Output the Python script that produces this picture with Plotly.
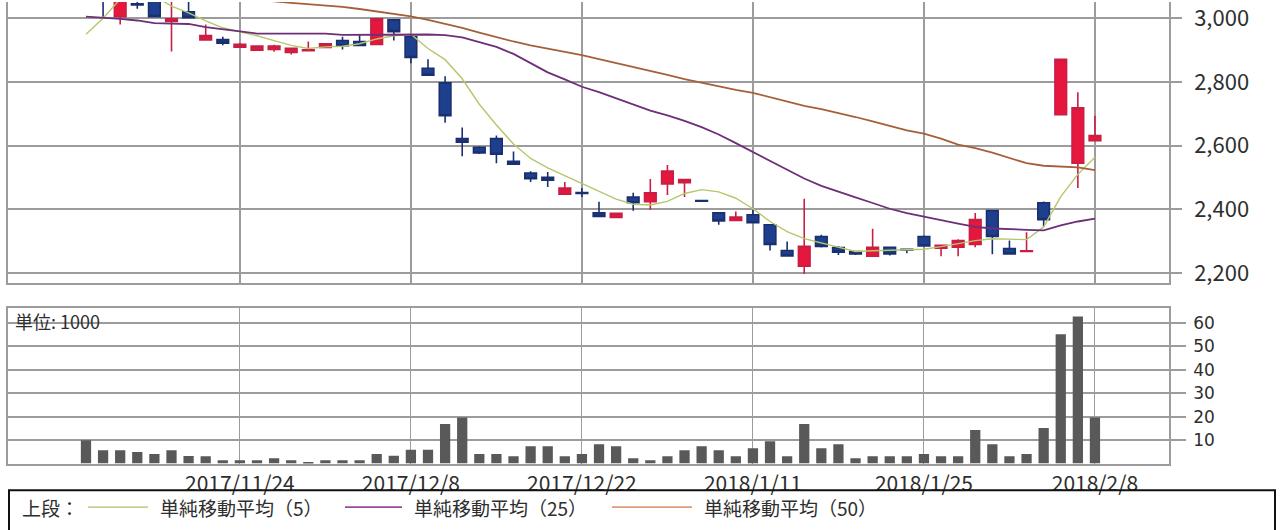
import plotly.graph_objects as go

# ---------------- data ----------------
dates = [
    "2017/11/10", "2017/11/13", "2017/11/14", "2017/11/15", "2017/11/16", "2017/11/17",
    "2017/11/20", "2017/11/21", "2017/11/22", "2017/11/24", "2017/11/27", "2017/11/28",
    "2017/11/29", "2017/11/30", "2017/12/1", "2017/12/4", "2017/12/5", "2017/12/6",
    "2017/12/7", "2017/12/8", "2017/12/11", "2017/12/12", "2017/12/13", "2017/12/14",
    "2017/12/15", "2017/12/18", "2017/12/19", "2017/12/20", "2017/12/21", "2017/12/22",
    "2017/12/25", "2017/12/26", "2017/12/27", "2017/12/28", "2017/12/29", "2018/1/4",
    "2018/1/5", "2018/1/9", "2018/1/10", "2018/1/11", "2018/1/12", "2018/1/15",
    "2018/1/16", "2018/1/17", "2018/1/18", "2018/1/19", "2018/1/22", "2018/1/23",
    "2018/1/24", "2018/1/25", "2018/1/26", "2018/1/29", "2018/1/30", "2018/1/31",
    "2018/2/1", "2018/2/2", "2018/2/5", "2018/2/6", "2018/2/7", "2018/2/8",
]

open_ = [3110, 3080, 3005, 3045, 3070, 2990, 3020, 2932, 2933, 2909,
         2900, 2902, 2893, 2898, 2908, 2930, 2927, 2918, 2995, 2942,
         2843, 2797, 2622, 2595, 2622, 2551, 2514, 2501, 2448, 2453,
         2389, 2375, 2439, 2424, 2480, 2484, 2428, 2389, 2365, 2383,
         2352, 2271, 2222, 2315, 2280, 2268, 2253, 2281, 2275, 2315,
         2278, 2281, 2290, 2396, 2277, 2268, 2421, 2697, 2545, 2616]
high = [3130, 3100, 3080, 3060, 3080, 3060, 3055, 2980, 2942, 2922,
        2915, 2917, 2908, 2927, 2922, 2942, 2948, 3000, 2998, 2950,
        2871, 2818, 2657, 2598, 2632, 2582, 2520, 2517, 2486, 2467,
        2424, 2390, 2452, 2495, 2539, 2496, 2429, 2391, 2393, 2399,
        2354, 2299, 2433, 2320, 2285, 2270, 2339, 2283, 2276, 2318,
        2289, 2306, 2389, 2398, 2302, 2328, 2425, 2871, 2768, 2694]
low = [3070, 3005, 2980, 3030, 3003, 2896, 3000, 2930, 2915, 2907,
       2898, 2895, 2886, 2897, 2906, 2902, 2913, 2915, 2930, 2859,
       2819, 2672, 2567, 2574, 2545, 2539, 2486, 2470, 2446, 2439,
       2376, 2373, 2396, 2399, 2445, 2439, 2425, 2352, 2364, 2356,
       2271, 2252, 2197, 2280, 2257, 2257, 2251, 2255, 2262, 2283,
       2253, 2253, 2281, 2259, 2258, 2266, 2346, 2697, 2467, 2614]
close = [3090, 3060, 3070, 3042, 3005, 2998, 3002, 2946, 2922, 2918,
         2913, 2913, 2906, 2901, 2920, 2914, 2915, 2998, 2958, 2877,
         2821, 2694, 2611, 2577, 2573, 2542, 2496, 2492, 2467, 2450,
         2378, 2388, 2421, 2452, 2520, 2494, 2426, 2364, 2376, 2358,
         2290, 2254, 2284, 2284, 2266, 2260, 2281, 2260, 2273, 2285,
         2287, 2302, 2368, 2315, 2260, 2270, 2368, 2871, 2719, 2632]

ma5 = [2950, 3000, 3060, 3080, 3070, 3038, 3017, 2992, 2970, 2958,
       2945, 2930, 2915, 2905, 2910, 2912, 2920, 2935, 2945, 2950,
       2905, 2870, 2810, 2730, 2665, 2605, 2560, 2530, 2505, 2480,
       2455, 2432, 2416, 2414, 2425, 2450, 2462, 2455, 2435, 2402,
       2362, 2330, 2308, 2295, 2280, 2268, 2270, 2272, 2273, 2275,
       2283, 2292, 2302, 2308, 2307, 2305, 2345, 2440, 2510, 2564]
ma25 = [3005, 3002, 2998, 2993, 2985, 2983, 2982, 2972, 2965, 2958,
        2952, 2952, 2952, 2952, 2952, 2948, 2948, 2948, 2948, 2950,
        2949, 2947, 2940, 2925, 2910, 2888, 2858, 2830, 2808, 2785,
        2768, 2748, 2728, 2710, 2695, 2678, 2658, 2635, 2608, 2580,
        2552, 2525, 2497, 2474, 2455, 2438, 2420, 2402, 2388, 2376,
        2366, 2355, 2345, 2340, 2337, 2336, 2334, 2350, 2362, 2371]
ma50 = [3117, 3111, 3106, 3100, 3094, 3088, 3082, 3077, 3071, 3065,
        3059, 3053, 3048, 3044, 3041, 3036, 3029, 3022, 3013, 3006,
        2995, 2983, 2970, 2955, 2940, 2927, 2915, 2905, 2893, 2884,
        2872, 2860, 2848, 2835, 2822, 2809, 2797, 2786, 2775, 2766,
        2752, 2738, 2725, 2715, 2703, 2690, 2676, 2661, 2648, 2638,
        2622, 2603, 2592, 2578, 2562, 2545, 2537, 2535, 2532, 2523]

volume = [10, 5.7, 5.7, 5, 4.1, 5.7, 3.2, 3.1, 1.4, 1.4,
          1.4, 2.3, 1.4, 0.5, 1.4, 1.4, 1.4, 4.1, 3.3, 5.9,
          5.9, 16.9, 19.7, 4.1, 4.1, 3.1, 7.4, 7.4, 3.1, 4.1,
          8.3, 7.4, 2.3, 1.4, 3.1, 5.7, 7.4, 5.7, 3.1, 6.6,
          9.5, 3.1, 16.9, 6.6, 8.3, 2.3, 3.1, 3.1, 3.1, 4.1,
          3.1, 3.1, 14.3, 8.3, 3.1, 4.1, 15.2, 55.2, 62.8, 19.7]

date_ticks = ["2017/11/24", "2017/12/8", "2017/12/22", "2018/1/11", "2018/1/25", "2018/2/8"]
price_ticks = [2200, 2400, 2600, 2800, 3000]
volume_ticks = [10, 20, 30, 40, 50, 60]

ma_names = ["単純移動平均（5）", "単純移動平均（25）", "単純移動平均（50）"]
ma_colors = ["#b4c76c", "#6e2f78", "#a5603a"]
legend_colors = ["#c3d293", "#9a4a9c", "#dd9c7c"]

# ---------------- figure ----------------
FONT = "Noto Sans CJK JP, DejaVu Sans, sans-serif"
NUMFONT = "DejaVu Sans, sans-serif"
GRID = "#9c9c9c"
TXT = "#2e2e2e"

fig = go.Figure()

for vals, name, col, w in zip([ma5, ma25, ma50], ma_names, ma_colors, [1.4, 1.8, 1.8]):
    fig.add_trace(go.Scatter(x=dates, y=vals, mode="lines", name=name,
                             line=dict(color=col, width=w), xaxis="x", yaxis="y",
                             showlegend=False, cliponaxis=True))

fig.add_trace(go.Candlestick(
    x=dates, open=open_, high=high, low=low, close=close,
    increasing=dict(fillcolor="#e5173d", line=dict(color="#c81e44", width=1.6)),
    decreasing=dict(fillcolor="#1d3f8e", line=dict(color="#1a2f6e", width=1.6)),
    whiskerwidth=0, xaxis="x", yaxis="y", showlegend=False,
))

fig.add_trace(go.Bar(x=dates, y=volume, marker=dict(color="#595959", line=dict(width=0)),
                     width=0.6, xaxis="x2", yaxis="y2", showlegend=False))

xrange = [-4.56, 63.33]

fig.update_layout(
    width=1280, height=530,
    margin=dict(l=8, r=111, t=0, b=0),
    paper_bgcolor="white", plot_bgcolor="white",
    font=dict(family=FONT, color=TXT),
    boxgap=0.32, boxgroupgap=0,
    showlegend=False,
    xaxis=dict(
        type="category", range=xrange, anchor="y",
        tickvals=date_ticks, showticklabels=False, ticks="",
        showgrid=True, gridcolor=GRID, gridwidth=1.5,
        showline=True, linecolor=GRID, linewidth=1.5, mirror=False,
        rangeslider=dict(visible=False), zeroline=False,
    ),
    yaxis=dict(
        domain=[0.4642, 1.0], range=[2168, 3051], side="right",
        tickvals=price_ticks, tickformat=",", ticks="outside", ticklen=11,
        tickcolor=GRID, tickwidth=1.5, ticklabelstandoff=8,
        ticklabeloverflow="allow",
        tickfont=dict(size=22, color=TXT, family=FONT),
        showgrid=True, gridcolor=GRID, gridwidth=1.5,
        showline=True, linecolor=GRID, linewidth=1.5, mirror=True, zeroline=False,
    ),
    xaxis2=dict(
        type="category", range=xrange, anchor="y2", matches="x",
        tickvals=date_ticks, ticktext=date_ticks, ticks="",
        ticklabeloverflow="allow",
        tickfont=dict(size=21, color=TXT, family=FONT),
        showgrid=True, gridcolor=GRID, gridwidth=1.2,
        showline=True, linecolor=GRID, linewidth=1.5, mirror=True,
        rangeslider=dict(visible=False), zeroline=False,
    ),
    yaxis2=dict(
        domain=[0.1208, 0.4170], range=[0, 66.4], side="right",
        tickvals=volume_ticks, ticks="outside", ticklen=15,
        tickcolor=GRID, tickwidth=1.5, ticklabelstandoff=4,
        ticklabeloverflow="allow",
        tickfont=dict(size=17, color=TXT, family=NUMFONT),
        showgrid=True, gridcolor=GRID, gridwidth=1.5,
        showline=True, linecolor=GRID, linewidth=1.5, mirror=True, zeroline=False,
    ),
)

W = 1161.0
H = 530.0


def px(xp):
    return (xp - 8) / W


def py(yp):
    return (H - yp) / H


# unit label in the volume panel
fig.add_annotation(text="単位: 1000", xref="paper", yref="paper", x=px(13), y=py(322),
                   xanchor="left", yanchor="middle", showarrow=False,
                   font=dict(size=18, color=TXT, family=FONT))

# legend box at the bottom
fig.add_shape(type="rect", xref="paper", yref="paper",
              x0=px(9), x1=px(1275), y0=py(545), y1=py(493),
              line=dict(color="#111111", width=2), fillcolor="rgba(0,0,0,0)", layer="above")
fig.add_annotation(text="上段：", xref="paper", yref="paper", x=px(20), y=py(510),
                   xanchor="left", yanchor="middle", showarrow=False,
                   font=dict(size=19, color=TXT, family=FONT))

legend_lines = [(88, 148, 158), (345, 402, 412), (612, 692, 702)]
for (lx0, lx1, tx), name, col in zip(legend_lines, ma_names, legend_colors):
    fig.add_shape(type="line", xref="paper", yref="paper",
                  x0=px(lx0), x1=px(lx1), y0=py(510), y1=py(510),
                  line=dict(color=col, width=1.8))
    fig.add_annotation(text=name, xref="paper", yref="paper", x=px(tx), y=py(510),
                       xanchor="left", yanchor="middle", showarrow=False,
                       font=dict(size=19, color=TXT, family=FONT))

fig.write_html("out.html", config={"displayModeBar": False},
               post_script="document.body.style.margin='0';document.body.style.overflow='hidden';")
